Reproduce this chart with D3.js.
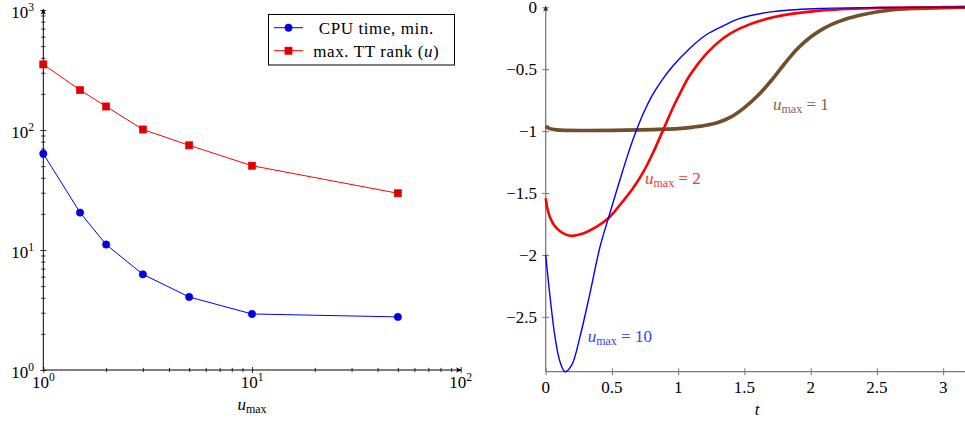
<!DOCTYPE html>
<html>
<head>
<meta charset="utf-8">
<script src="https://cdn.jsdelivr.net/npm/d3@7"></script>
<style>
  html, body { margin: 0; padding: 0; background: #fff; }
  svg text { font-family: "Liberation Serif", "Times New Roman", serif; }
</style>
</head>
<body>
<div id="chart"></div>
<script>
// ---- left panel data (log-log) ----
const uMax = [1, 1.5, 2, 3, 5, 10, 50];
const cpuTime = [63.5, 20.5, 11.1, 6.27, 4.06, 2.93, 2.77];
const ttRank = [352, 215, 157, 101, 74.5, 50.4, 29.7];
const logMajorX = [1, 10, 100];
const logMajorY = [1, 10, 100, 1000];

// ---- right panel data: curves ----
const tBlue = [0, 0.03, 0.07, 0.108, 0.146, 0.196, 0.259, 0.334, 0.41, 0.473, 0.56, 0.62, 0.679, 0.74, 0.8, 0.87, 0.963, 1.089, 1.215, 1.34, 1.466, 1.717, 2.07, 2.5, 3.165];
const yBlue = [-2.0, -2.31, -2.66, -2.863, -2.943, -2.89, -2.66, -2.31, -1.934, -1.704, -1.395, -1.19, -1.01, -0.85, -0.72, -0.6, -0.47, -0.33, -0.22, -0.15, -0.09, -0.035, -0.01, -0.002, 0];
const tRed = [0, 0.03, 0.083, 0.183, 0.284, 0.385, 0.473, 0.56, 0.66, 0.737, 0.81, 0.883, 0.963, 1.03, 1.089, 1.215, 1.34, 1.466, 1.717, 2.07, 2.5, 3.165];
const yRed = [-1.543, -1.69, -1.785, -1.845, -1.826, -1.772, -1.704, -1.597, -1.46, -1.33, -1.175, -1.0, -0.805, -0.66, -0.547, -0.372, -0.25, -0.17, -0.081, -0.027, -0.006, 0];
const tBrown = [0, 0.03, 0.08, 0.3, 0.71, 1.0, 1.1, 1.2, 1.3, 1.4, 1.5, 1.6, 1.7, 1.8, 1.9, 2.0, 2.1, 2.2, 2.37, 2.62, 3.0, 3.165];
const yBrown = [-0.961, -0.98, -0.99, -0.995, -0.99, -0.98, -0.97, -0.955, -0.93, -0.885, -0.81, -0.715, -0.595, -0.46, -0.335, -0.24, -0.17, -0.12, -0.065, -0.02, -0.003, 0];
const tTicks = [0, 0.5, 1, 1.5, 2, 2.5, 3];
const vTicks = [0, -0.5, -1, -1.5, -2, -2.5];

const FONT = "'Liberation Serif', 'Times New Roman', serif";

const svg = d3.select("#chart")
    .append("svg")
    .attr("width", 965)
    .attr("height", 425);

function zip(xs, ys) {
    return xs.map((x, i) => ({ x: x, y: ys[i] }));
}

function arrowHead(g, x, y, dir, color) {
    // small filled arrow tip pointing right ("r") or up ("u")
    const p = dir === "r"
        ? `M${x},${y} L${x - 6},${y - 2.5} L${x - 4.5},${y} L${x - 6},${y + 2.5} Z`
        : `M${x},${y} L${x - 2.5},${y + 6} L${x},${y + 4.5} L${x + 2.5},${y + 6} Z`;
    g.append("path").attr("d", p).attr("fill", color);
}

function powLabel(sel, exp) {
    sel.append("tspan").text("10");
    sel.append("tspan").attr("dy", -7).style("font-size", "11.5px").text(exp);
}

function drawLeft() {
    const g = svg.append("g");
    const x = d3.scaleLog().domain([1, 100]).range([43.3, 460.7]);
    const y = d3.scaleLog().domain([1, 1000]).range([370, 10]);

    // minor tick positions 2..9 per decade
    const minorX = [], minorY = [];
    [1, 10].forEach(d => { for (let k = 2; k <= 9; k++) minorX.push(d * k); });
    [1, 10, 100].forEach(d => { for (let k = 2; k <= 9; k++) minorY.push(d * k); });

    // ticks on both sides of the axis line
    [3, -3].forEach(s => {
        g.append("g").attr("transform", "translate(0,370)")
            .call(d3.axisBottom(x).tickValues(logMajorX).tickSize(s).tickFormat("").tickSizeOuter(0));
        g.append("g").attr("transform", "translate(0,370)")
            .call(d3.axisBottom(x).tickValues(minorX).tickSize(s * 0.7).tickFormat("").tickSizeOuter(0));
        g.append("g").attr("transform", "translate(43.3,0)")
            .call(d3.axisLeft(y).tickValues(logMajorY).tickSize(s).tickFormat("").tickSizeOuter(0));
        g.append("g").attr("transform", "translate(43.3,0)")
            .call(d3.axisLeft(y).tickValues(minorY).tickSize(s * 0.7).tickFormat("").tickSizeOuter(0));
    });
    g.selectAll(".domain").remove();
    g.selectAll(".tick line").attr("stroke", "#000").attr("stroke-width", 0.8);

    g.append("line").attr("x1", 43.3).attr("x2", 461).attr("y1", 370).attr("y2", 370)
        .attr("stroke", "#000").attr("stroke-width", 1);
    g.append("line").attr("x1", 43.3).attr("x2", 43.3).attr("y1", 370).attr("y2", 9.5)
        .attr("stroke", "#000").attr("stroke-width", 1);
    arrowHead(g, 462, 370, "r", "#000");
    arrowHead(g, 43.3, 8.5, "u", "#000");

    // tick labels
    g.selectAll(".xlab").data(logMajorX).enter().append("text")
        .attr("x", d => x(d)).attr("y", 388)
        .attr("text-anchor", "middle").style("font-family", FONT).style("font-size", "17px")
        .each(function(d) { powLabel(d3.select(this), Math.round(Math.log10(d))); });
    g.selectAll(".ylab").data(logMajorY).enter().append("text")
        .attr("x", 34).attr("y", d => y(d) + 7.5)
        .attr("text-anchor", "end").style("font-family", FONT).style("font-size", "17px")
        .each(function(d) { powLabel(d3.select(this), Math.round(Math.log10(d))); });

    const xl = g.append("text").attr("x", 252).attr("y", 410)
        .attr("text-anchor", "middle").style("font-family", FONT).style("font-size", "17px");
    xl.append("tspan").style("font-style", "italic").text("u");
    xl.append("tspan").attr("dy", 3).style("font-size", "12px").text("max");

    const line = d3.line().x(d => x(d.x)).y(d => y(d.y));
    const cpu = zip(uMax, cpuTime), rank = zip(uMax, ttRank);

    g.append("path").datum(rank).attr("d", line)
        .attr("fill", "none").attr("stroke", "#ff0000").attr("stroke-width", 1);
    g.append("path").datum(cpu).attr("d", line)
        .attr("fill", "none").attr("stroke", "#0000ff").attr("stroke-width", 1);

    g.selectAll(".sq").data(rank).enter().append("rect")
        .attr("x", d => x(d.x) - 3.6).attr("y", d => y(d.y) - 3.6)
        .attr("width", 7.2).attr("height", 7.2)
        .attr("fill", "#d80000").attr("stroke", "#ff0000").attr("stroke-width", 0.6);
    g.selectAll(".dot").data(cpu).enter().append("circle")
        .attr("cx", d => x(d.x)).attr("cy", d => y(d.y)).attr("r", 3.7)
        .attr("fill", "#0000d8").attr("stroke", "#0000ff").attr("stroke-width", 0.6);

    // legend
    const lg = g.append("g");
    lg.append("rect").attr("x", 268.5).attr("y", 14.5).attr("width", 186).attr("height", 50.5)
        .attr("fill", "#fff").attr("stroke", "#000").attr("stroke-width", 1);
    lg.append("line").attr("x1", 274).attr("x2", 303).attr("y1", 27.7).attr("y2", 27.7)
        .attr("stroke", "#0000ff").attr("stroke-width", 1);
    lg.append("circle").attr("cx", 288.5).attr("cy", 27.7).attr("r", 3.7)
        .attr("fill", "#0000d8").attr("stroke", "#0000ff").attr("stroke-width", 0.6);
    lg.append("line").attr("x1", 274).attr("x2", 303).attr("y1", 50.7).attr("y2", 50.7)
        .attr("stroke", "#ff0000").attr("stroke-width", 1);
    lg.append("rect").attr("x", 284.9).attr("y", 47.1).attr("width", 7.2).attr("height", 7.2)
        .attr("fill", "#d80000").attr("stroke", "#ff0000").attr("stroke-width", 0.6);
    lg.append("text").attr("x", 376.3).attr("y", 33.5).attr("text-anchor", "middle")
        .style("font-family", FONT).style("font-size", "17px").style("letter-spacing", "0.6px")
        .text("CPU time, min.");
    const t2 = lg.append("text").attr("x", 376.3).attr("y", 56.5).attr("text-anchor", "middle")
        .style("font-family", FONT).style("font-size", "17px").style("letter-spacing", "0.6px");
    t2.append("tspan").text("max.  TT rank (");
    t2.append("tspan").style("font-style", "italic").text("u");
    t2.append("tspan").text(")");
}

function drawRight() {
    const g = svg.append("g");
    const axisColor = "#7a7a7a";
    const x = d3.scaleLinear().domain([0, 3.165]).range([545.7, 965]);
    const y = d3.scaleLinear().domain([-2.943, 0]).range([371.7, 7.3]);

    [3.5, -3.5].forEach(s => {
        g.append("g").attr("transform", "translate(0,371.7)")
            .call(d3.axisBottom(x).tickValues(tTicks).tickSize(s).tickFormat("").tickSizeOuter(0));
        g.append("g").attr("transform", "translate(545.7,0)")
            .call(d3.axisLeft(y).tickValues(vTicks).tickSize(s).tickFormat("").tickSizeOuter(0));
    });
    g.selectAll(".domain").remove();
    g.selectAll(".tick line").attr("stroke", axisColor).attr("stroke-width", 1);

    g.append("line").attr("x1", 545.7).attr("x2", 965).attr("y1", 371.7).attr("y2", 371.7)
        .attr("stroke", axisColor).attr("stroke-width", 1.3);
    g.append("line").attr("x1", 545.7).attr("x2", 545.7).attr("y1", 371.7).attr("y2", 7)
        .attr("stroke", axisColor).attr("stroke-width", 1.3);
    arrowHead(g, 545.7, 5.5, "u", "#222");

    const fmt = d3.format("");
    g.selectAll(".xlab").data(tTicks).enter().append("text")
        .attr("x", d => x(d)).attr("y", 393)
        .attr("text-anchor", "middle").style("font-family", FONT).style("font-size", "17px")
        .text(d => fmt(d));
    g.selectAll(".ylab").data(vTicks).enter().append("text")
        .attr("x", 537).attr("y", d => y(d) + 6)
        .attr("text-anchor", "end").style("font-family", FONT).style("font-size", "17px")
        .text(d => fmt(d));
    g.append("text").attr("x", 757).attr("y", 415).attr("text-anchor", "middle")
        .style("font-family", FONT).style("font-size", "17px").style("font-style", "italic").text("t");

    const line = d3.line().x(d => x(d.x)).y(d => y(d.y)).curve(d3.curveCatmullRom.alpha(0.5));

    g.append("path").datum(zip(tBrown, yBrown)).attr("d", line)
        .attr("fill", "none").attr("stroke", "#6f4f2c").attr("stroke-width", 3.6);
    g.append("path").datum(zip(tRed, yRed)).attr("d", line)
        .attr("fill", "none").attr("stroke", "#ff0000").attr("stroke-width", 2.6);
    g.append("path").datum(zip(tBlue, yBlue)).attr("d", line)
        .attr("fill", "none").attr("stroke", "#0000ff").attr("stroke-width", 1.4);

    // curve labels
    const labels = [
        { x: 587.7, y: 342, txt: " = 10", color: "#3a3aff" },
        { x: 645, y: 184, txt: " = 2", color: "#ff3030" },
        { x: 773, y: 110, txt: " = 1", color: "#866545" }
    ];
    labels.forEach(l => {
        const t = g.append("text").attr("x", l.x).attr("y", l.y)
            .style("font-family", FONT).style("font-size", "17px").attr("fill", l.color);
        t.append("tspan").style("font-style", "italic").text("u");
        t.append("tspan").attr("dy", 3).style("font-size", "12px").text("max");
        t.append("tspan").attr("dy", -3).text(l.txt);
    });
}

drawLeft();
drawRight();
</script>
</body>
</html>
